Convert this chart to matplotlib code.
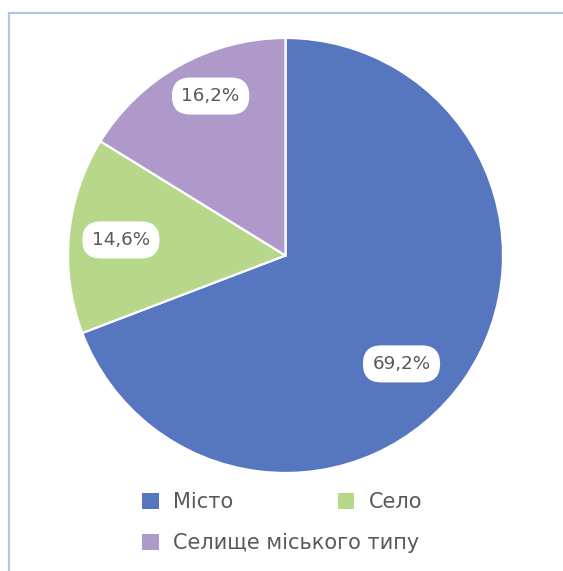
import numpy as np
import matplotlib
matplotlib.use('Agg')
import matplotlib.pyplot as plt
from matplotlib.patches import Patch
from matplotlib.lines import Line2D

categories = ['Місто', 'Село', 'Селище міського типу']
values = [69.2, 14.6, 16.2]
colors = ['#5676BF', '#B7D88B', '#AF98CA']

text_color = '#595959'

fig = plt.figure(figsize=(5.63, 5.71), dpi=100)

# pie axes: square box centred on the pie
cx, cy, r = 285.5, 255.5, 217.5
ax = fig.add_axes([(cx - r) / 563, (571 - cy - r) / 571, 2 * r / 563, 2 * r / 571])

wedges, texts = ax.pie(values, colors=colors, startangle=90, counterclock=False,
                       radius=1.0, wedgeprops=dict(edgecolor='white', linewidth=1.6))
ax.set_xlim(-1, 1)
ax.set_ylim(-1, 1)
ax.set_aspect('equal')
ax.axis('off')

# data labels (Excel "best fit" places them a bit off the slice middle)
label_r = [0.73, 0.76, 0.81]
label_shift = [-8.5, 0.0, -4.0]
for w, v, lr, sh in zip(wedges, values, label_r, label_shift):
    ang = np.deg2rad((w.theta1 + w.theta2) / 2 + sh)
    ax.text(lr * np.cos(ang), lr * np.sin(ang), f'{v:.1f}%'.replace('.', ','),
            ha='center', va='center', fontsize=13.2, color=text_color,
            bbox=dict(boxstyle='round,pad=0.52,rounding_size=1.0',
                      fc='white', ec='none'))

# legend: first row two entries, second row the long one
handles = [Patch(facecolor=c, edgecolor='none') for c in colors]
leg_kw = dict(frameon=False, fontsize=15, handlelength=0.8, handleheight=0.8,
              handletextpad=0.7, labelcolor=text_color, borderaxespad=0, borderpad=0)
leg1 = fig.legend(handles[:2], categories[:2], ncol=2, columnspacing=5.0,
                  loc='upper left', bbox_to_anchor=(142 / 563, 1 - 492 / 571), **leg_kw)
leg2 = fig.legend(handles[2:], categories[2:], ncol=1,
                  loc='upper left', bbox_to_anchor=(142 / 563, 1 - 533 / 571), **leg_kw)

# chart frame (only top and left edges are visible)
frame_color = '#B4C6DD'
fig.add_artist(Line2D([8.5 / 563, 1], [1 - 13 / 571, 1 - 13 / 571],
                      transform=fig.transFigure, color=frame_color, lw=1.6))
fig.add_artist(Line2D([8.5 / 563, 8.5 / 563], [0, 1 - 13 / 571],
                      transform=fig.transFigure, color=frame_color, lw=1.6))

fig.savefig('out.png', dpi=100)
